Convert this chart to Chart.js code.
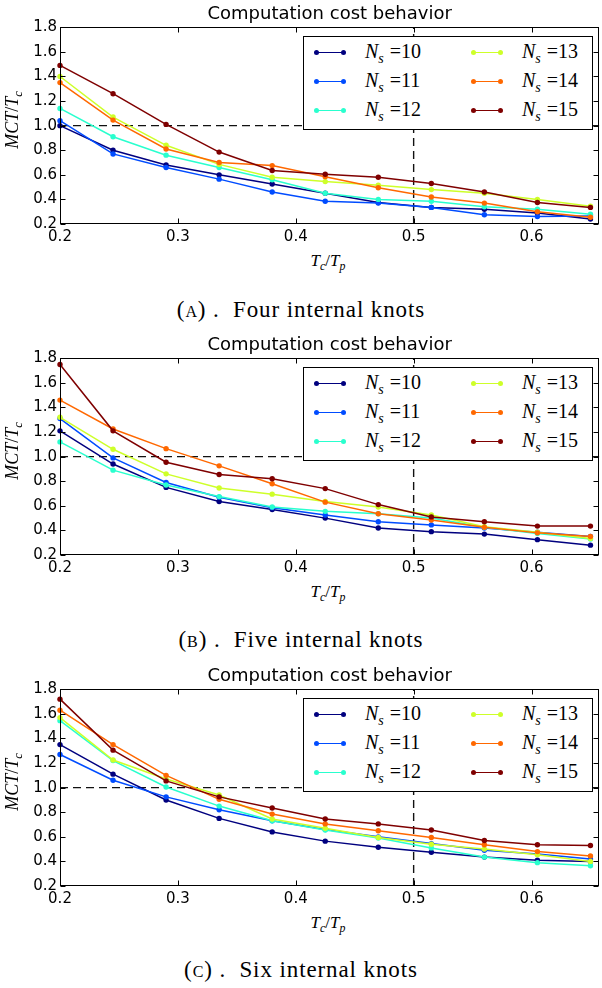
<!DOCTYPE html>
<html>
<head>
<meta charset="utf-8">
<script src="https://cdn.jsdelivr.net/npm/chart.js@4.4.1/dist/chart.umd.min.js"></script>
<style>
  body { margin: 0; background: #fff; }
  #page { position: relative; width: 602px; height: 988px; overflow: hidden; }
  .panel { position: absolute; left: 0; width: 602px; height: 330px; }
  .panel canvas { position: absolute; left: 0; top: 0; }
  .serif { font-family: "Liberation Serif", "Times New Roman", serif; color: #000; white-space: nowrap; }
  .sub { font-size: 70%; position: relative; top: 0.35em; }
  .legend { position: absolute; left: 303px; top: 35.5px; width: 290px; height: 94px;
            background: #fff; border: 1px solid #000; box-sizing: border-box; }
  .swatch { position: absolute; width: 27px; height: 1.5px; }
  .dot { position: absolute; width: 5px; height: 5px; border-radius: 50%; top: -1.75px; }
  .ltext { position: absolute; font-size: 20px; line-height: 20px; }
  .xlabel { position: absolute; left: 278px; width: 100px; top: 252px; text-align: center; font-size: 17px; line-height: 18px; }
  .ylabel { position: absolute; left: -37px; width: 100px; top: 110px; text-align: center; font-size: 18px; line-height: 18px;
            transform: rotate(-90deg); }
  .caption { position: absolute; left: 0; width: 602px; text-align: center; font-size: 23px; line-height: 24px; letter-spacing: 0.9px; }
  .sc { font-variant: small-caps; }
</style>
</head>
<body>
<div id="page">
  <div class="panel" style="top:0px"><canvas id="chartA" width="602" height="250"></canvas></div>
  <div class="panel" style="top:331px"><canvas id="chartB" width="602" height="250"></canvas></div>
  <div class="panel" style="top:662px"><canvas id="chartC" width="602" height="250"></canvas></div>
  <div class="caption serif" style="top:298px">(<span class="sc">a</span>) .&nbsp; Four internal knots</div>
  <div class="caption serif" style="top:628px">(<span class="sc">b</span>) .&nbsp; Five internal knots</div>
  <div class="caption serif" style="top:958px">(<span class="sc">c</span>) .&nbsp; Six internal knots</div>
</div>
<script>
// x values (Tc/Tp) shared by every curve
const tcOverTp = [0.2, 0.245, 0.29, 0.335, 0.38, 0.425, 0.47, 0.515, 0.56, 0.605, 0.65];
const samples = [10, 11, 12, 13, 14, 15];
const colors = ['#00007f', '#004cff', '#29ffce', '#ceff29', '#ff6800', '#7f0000'];
const xTicks = [0.2, 0.3, 0.4, 0.5, 0.6];
const yTicks = [0.2, 0.4, 0.6, 0.8, 1.0, 1.2, 1.4, 1.6, 1.8];
const xMin = 0.2, xMax = 0.6575;
const yMin = 0.2, yMax = 1.8;
const refCost = 1.0;   // dashed horizontal line
const refRatio = 0.5;  // dashed vertical line

// MCT/Tc, one row per Ns (10..15)
const fourKnots = [
  [1.00, 0.80, 0.68, 0.60, 0.525, 0.45, 0.375, 0.335, 0.32, 0.29, 0.24],
  [1.04, 0.77, 0.66, 0.565, 0.46, 0.385, 0.37, 0.335, 0.275, 0.26, 0.265],
  [1.14, 0.91, 0.76, 0.66, 0.56, 0.45, 0.40, 0.385, 0.34, 0.32, 0.28],
  [1.40, 1.07, 0.84, 0.685, 0.58, 0.545, 0.515, 0.48, 0.45, 0.40, 0.345],
  [1.35, 1.045, 0.81, 0.70, 0.675, 0.585, 0.495, 0.42, 0.37, 0.30, 0.255],
  [1.49, 1.26, 1.01, 0.785, 0.635, 0.605, 0.58, 0.53, 0.46, 0.375, 0.335]
];
const fiveKnots = [
  [1.21, 0.94, 0.75, 0.635, 0.57, 0.50, 0.42, 0.39, 0.37, 0.325, 0.28],
  [1.31, 0.99, 0.79, 0.67, 0.585, 0.525, 0.47, 0.445, 0.42, 0.385, 0.35],
  [1.12, 0.89, 0.77, 0.675, 0.59, 0.555, 0.535, 0.50, 0.425, 0.375, 0.33],
  [1.32, 1.06, 0.86, 0.745, 0.695, 0.635, 0.59, 0.525, 0.43, 0.385, 0.335],
  [1.46, 1.225, 1.065, 0.925, 0.78, 0.63, 0.535, 0.485, 0.425, 0.38, 0.35],
  [1.75, 1.21, 0.955, 0.855, 0.82, 0.74, 0.61, 0.51, 0.47, 0.435, 0.435]
];
const sixKnots = [
  [1.35, 1.11, 0.90, 0.75, 0.64, 0.565, 0.515, 0.475, 0.435, 0.41, 0.40],
  [1.27, 1.06, 0.925, 0.82, 0.73, 0.66, 0.60, 0.545, 0.49, 0.46, 0.42],
  [1.545, 1.22, 1.005, 0.85, 0.73, 0.655, 0.59, 0.51, 0.435, 0.39, 0.365],
  [1.57, 1.225, 1.07, 0.94, 0.745, 0.67, 0.595, 0.54, 0.50, 0.455, 0.40],
  [1.63, 1.35, 1.10, 0.905, 0.785, 0.705, 0.65, 0.595, 0.535, 0.48, 0.445],
  [1.72, 1.305, 1.055, 0.925, 0.835, 0.745, 0.705, 0.655, 0.57, 0.535, 0.53]
];

// box around the axes with matplotlib-style inward ticks on all four sides
const framePlugin = {
  id: 'frame',
  afterDatasetsDraw(chart) {
    const { ctx, chartArea: a, scales: { x, y } } = chart;
    const L = Math.round(a.left) + 0.5, R = Math.round(a.right) - 0.5;
    const T = Math.round(a.top) + 0.5, B = Math.round(a.bottom) - 0.5;
    const len = 5;
    ctx.save();
    ctx.strokeStyle = '#000';
    ctx.lineWidth = 1;
    ctx.strokeRect(L, T, R - L, B - T);
    ctx.beginPath();
    xTicks.forEach(v => {
      const px = Math.round(x.getPixelForValue(v)) + 0.5;
      ctx.moveTo(px, B); ctx.lineTo(px, B - len);
      ctx.moveTo(px, T); ctx.lineTo(px, T + len);
    });
    yTicks.forEach(v => {
      const py = Math.round(y.getPixelForValue(v)) + 0.5;
      ctx.moveTo(L, py); ctx.lineTo(L + len, py);
      ctx.moveTo(R, py); ctx.lineTo(R - len, py);
    });
    ctx.stroke();
    ctx.restore();
  }
};

function makeChart(canvasId, series) {
  const datasets = series.map((vals, i) => ({
    label: 'Ns =' + samples[i],
    data: vals.map((v, j) => ({ x: tcOverTp[j], y: v })),
    borderColor: colors[i],
    backgroundColor: colors[i],
    borderWidth: 1.5,
    pointRadius: 2.7,
    pointHoverRadius: 2.7,
    pointBorderWidth: 0,
    showLine: true,
    clip: false,
    order: samples.length - i
  }));
  const dashed = { borderColor: '#111', borderWidth: 1.4, borderDash: [8, 5], pointRadius: 0, showLine: true, order: 20 };
  datasets.push(Object.assign({ label: 'ref-h', data: [{ x: xMin, y: refCost }, { x: xMax, y: refCost }] }, dashed));
  datasets.push(Object.assign({ label: 'ref-v', data: [{ x: refRatio, y: yMin }, { x: refRatio, y: yMax }] }, dashed));

  const tickFont = { family: 'DejaVu Sans', size: 15 };
  return new Chart(document.getElementById(canvasId), {
    type: 'scatter',
    data: { datasets },
    options: {
      responsive: false,
      animation: false,
      events: [],
      layout: { padding: { left: 0, right: 1, top: 0, bottom: 0 } },
      plugins: {
        legend: { display: false },
        tooltip: { enabled: false },
        title: {
          display: true,
          text: 'Computation cost behavior',
          color: '#000',
          fullSize: false,
          font: { family: 'DejaVu Sans', size: 18, weight: 'normal' },
          padding: { top: 4, bottom: 1.7 }
        }
      },
      scales: {
        x: {
          type: 'linear', min: xMin, max: xMax,
          grid: { display: false, drawTicks: false },
          border: { display: false },
          afterBuildTicks: s => { s.ticks = xTicks.map(v => ({ value: v })); },
          afterFit: s => { s.height = 26; },
          ticks: { color: '#000', font: tickFont, padding: 4, maxRotation: 0, autoSkip: false,
                   callback: v => v.toFixed(1) }
        },
        y: {
          type: 'linear', min: yMin, max: yMax,
          grid: { display: false, drawTicks: false },
          border: { display: false },
          afterBuildTicks: s => { s.ticks = yTicks.map(v => ({ value: v })); },
          afterFit: s => { s.width = 60; },
          ticks: { color: '#000', font: tickFont, padding: 3, autoSkip: false,
                   callback: v => v.toFixed(1) }
        }
      }
    },
    plugins: [framePlugin]
  });
}

// html overlays: legend box and axis labels with subscripts
function addOverlays(canvasId) {
  const panel = document.getElementById(canvasId).parentNode;
  const box = document.createElement('div');
  box.className = 'legend';
  samples.forEach((n, i) => {
    const col = Math.floor(i / 3), row = i % 3;
    const cy = 15.8 + row * 29;
    const lineX = col === 0 ? 12 : 169;
    const sw = document.createElement('div');
    sw.className = 'swatch';
    sw.style.cssText = `left:${lineX}px;top:${cy - 0.75}px;background:${colors[i]}`;
    ['-2.5px', '24.5px'].forEach(l => {
      const d = document.createElement('div');
      d.className = 'dot';
      d.style.cssText = `left:${l};background:${colors[i]}`;
      sw.appendChild(d);
    });
    box.appendChild(sw);
    const t = document.createElement('div');
    t.className = 'ltext serif';
    t.style.cssText = `left:${lineX + 49}px;top:${cy - 11}px`;
    t.innerHTML = `<i>N</i><span class="sub"><i>s</i></span><span style="margin-left:6px">=${n}</span>`;
    box.appendChild(t);
  });
  panel.appendChild(box);

  const xl = document.createElement('div');
  xl.className = 'xlabel serif';
  xl.innerHTML = '<i>T</i><span class="sub"><i>c</i></span>/<i>T</i><span class="sub"><i>p</i></span>';
  panel.appendChild(xl);

  const yl = document.createElement('div');
  yl.className = 'ylabel serif';
  yl.innerHTML = '<i>MCT</i>/<i>T</i><span class="sub"><i>c</i></span>';
  panel.appendChild(yl);
}

makeChart('chartA', fourKnots);
makeChart('chartB', fiveKnots);
makeChart('chartC', sixKnots);
['chartA', 'chartB', 'chartC'].forEach(addOverlays);
</script>
</body>
</html>
